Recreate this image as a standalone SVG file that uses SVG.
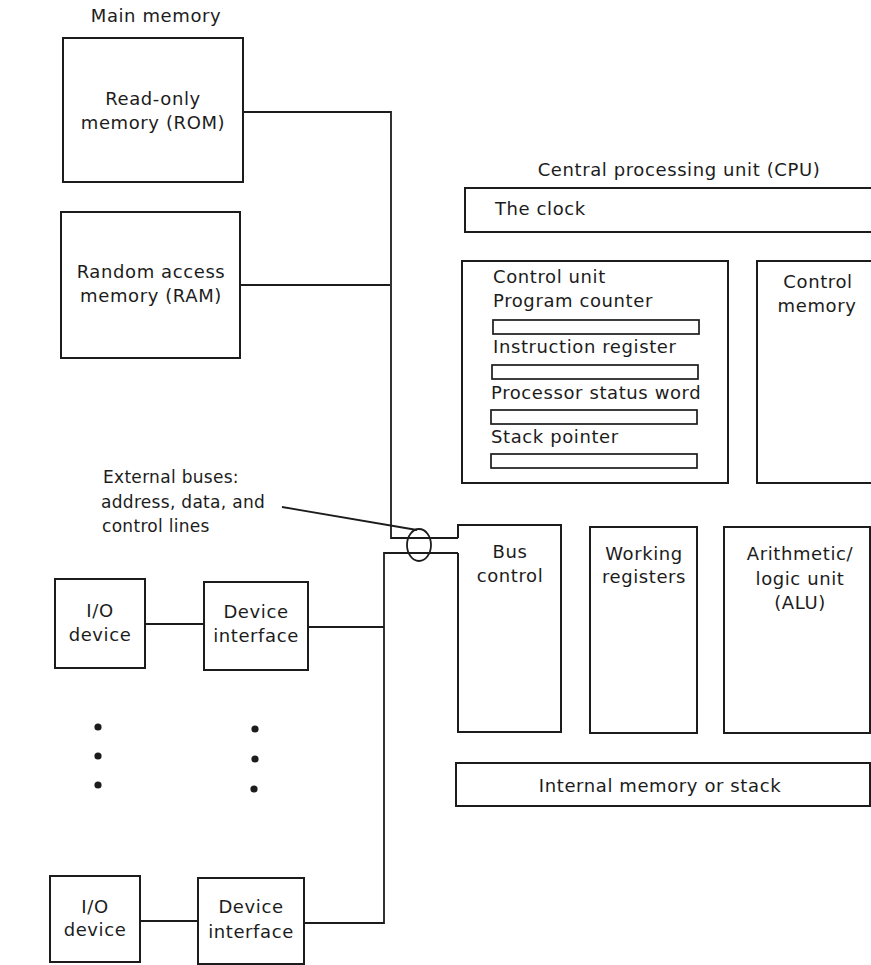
<svg xmlns="http://www.w3.org/2000/svg" width="871" height="965" viewBox="0 0 871 965">
<style>
  .box { fill: none; stroke: #1c1c1c; stroke-width: 2; }
  .reg { fill: none; stroke: #1c1c1c; stroke-width: 1.7; }
  .wire { fill: none; stroke: #1c1c1c; stroke-width: 1.8; }
  text { font-family: "DejaVu Sans", "Liberation Sans", sans-serif; font-size: 18px; fill: #1c1c1c; letter-spacing: 0.6px; }
  .c { text-anchor: middle; }
  .lbl { font-size: 17px; letter-spacing: 0.3px; }
  .dot { fill: #1c1c1c; }
</style>
<rect width="871" height="965" fill="#ffffff"/>

<text class="c" x="156" y="22">Main memory</text>
<text class="c" x="679" y="176">Central processing unit (CPU)</text>

<g id="connectors">
  <path class="wire" d="M243,112 H391 V538 H458"/>
  <path class="wire" d="M240,285 H390"/>
  <path class="wire" d="M458,553 H384 V923 H304"/>
  <path class="wire" d="M308,627 H384"/>
  <path class="wire" d="M145,624 H204"/>
  <path class="wire" d="M140,921 H198"/>
  <path class="wire" d="M282,507 L417,530"/>
  <ellipse class="wire" cx="419" cy="545" rx="12" ry="16"/>
</g>

<g id="rom">
  <rect class="box" x="63" y="38" width="180" height="144"/>
  <text class="c" x="153" y="105">Read-only</text>
  <text class="c" x="153" y="129">memory (ROM)</text>
</g>
<g id="ram">
  <rect class="box" x="61" y="212" width="179" height="146"/>
  <text class="c" x="151" y="278">Random access</text>
  <text class="c" x="151" y="302">memory (RAM)</text>
</g>

<g id="bus-label">
  <text class="lbl" x="103" y="483">External buses:</text>
  <text class="lbl" x="101" y="508">address, data, and</text>
  <text class="lbl" x="102" y="532">control lines</text>
</g>

<g id="clock">
  <rect class="box" x="465" y="188" width="420" height="44"/>
  <text x="495" y="215">The clock</text>
</g>

<g id="control-unit">
  <rect class="box" x="462" y="261" width="266" height="222"/>
  <text x="493" y="283">Control unit</text>
  <text x="493" y="307">Program counter</text>
  <rect class="reg" x="493" y="320" width="206" height="14"/>
  <text x="493" y="353">Instruction register</text>
  <rect class="reg" x="492" y="365" width="206" height="14"/>
  <text x="491" y="399">Processor status word</text>
  <rect class="reg" x="491" y="410" width="206" height="14"/>
  <text x="491" y="443">Stack pointer</text>
  <rect class="reg" x="491" y="454" width="206" height="14"/>
</g>

<g id="control-memory">
  <rect class="box" x="757" y="261" width="130" height="222"/>
  <text class="c" x="818" y="288">Control</text>
  <text class="c" x="817" y="312">memory</text>
</g>

<g id="bus-control">
  <path class="box" d="M458,538 V525 H561 V732 H458 V553"/>
  <text class="c" x="510" y="558">Bus</text>
  <text class="c" x="510" y="582">control</text>
</g>

<g id="working-registers">
  <rect class="box" x="590" y="527" width="107" height="206"/>
  <text class="c" x="644" y="560">Working</text>
  <text class="c" x="644" y="583">registers</text>
</g>

<g id="alu">
  <rect class="box" x="724" y="527" width="146" height="206"/>
  <text class="c" x="800" y="560">Arithmetic/</text>
  <text class="c" x="800" y="585">logic unit</text>
  <text class="c" x="800" y="609">(ALU)</text>
</g>

<g id="internal-memory">
  <rect class="box" x="456" y="763" width="414" height="43"/>
  <text class="c" x="660" y="792">Internal memory or stack</text>
</g>

<g id="io-device-1">
  <rect class="box" x="55" y="579" width="90" height="89"/>
  <text class="c" x="100" y="617">I/O</text>
  <text class="c" x="100" y="641">device</text>
</g>
<g id="device-interface-1">
  <rect class="box" x="204" y="582" width="104" height="88"/>
  <text class="c" x="256" y="618">Device</text>
  <text class="c" x="256" y="642">interface</text>
</g>

<g id="ellipsis">
  <circle class="dot" cx="98" cy="727" r="3.6"/>
  <circle class="dot" cx="98" cy="756" r="3.6"/>
  <circle class="dot" cx="98" cy="785" r="3.6"/>
  <circle class="dot" cx="255" cy="729" r="3.6"/>
  <circle class="dot" cx="255" cy="759" r="3.6"/>
  <circle class="dot" cx="254" cy="789" r="3.6"/>
</g>

<g id="io-device-2">
  <rect class="box" x="50" y="876" width="90" height="86"/>
  <text class="c" x="95" y="913">I/O</text>
  <text class="c" x="95" y="936">device</text>
</g>
<g id="device-interface-2">
  <rect class="box" x="198" y="878" width="106" height="86"/>
  <text class="c" x="251" y="913">Device</text>
  <text class="c" x="251" y="938">interface</text>
</g>
</svg>
